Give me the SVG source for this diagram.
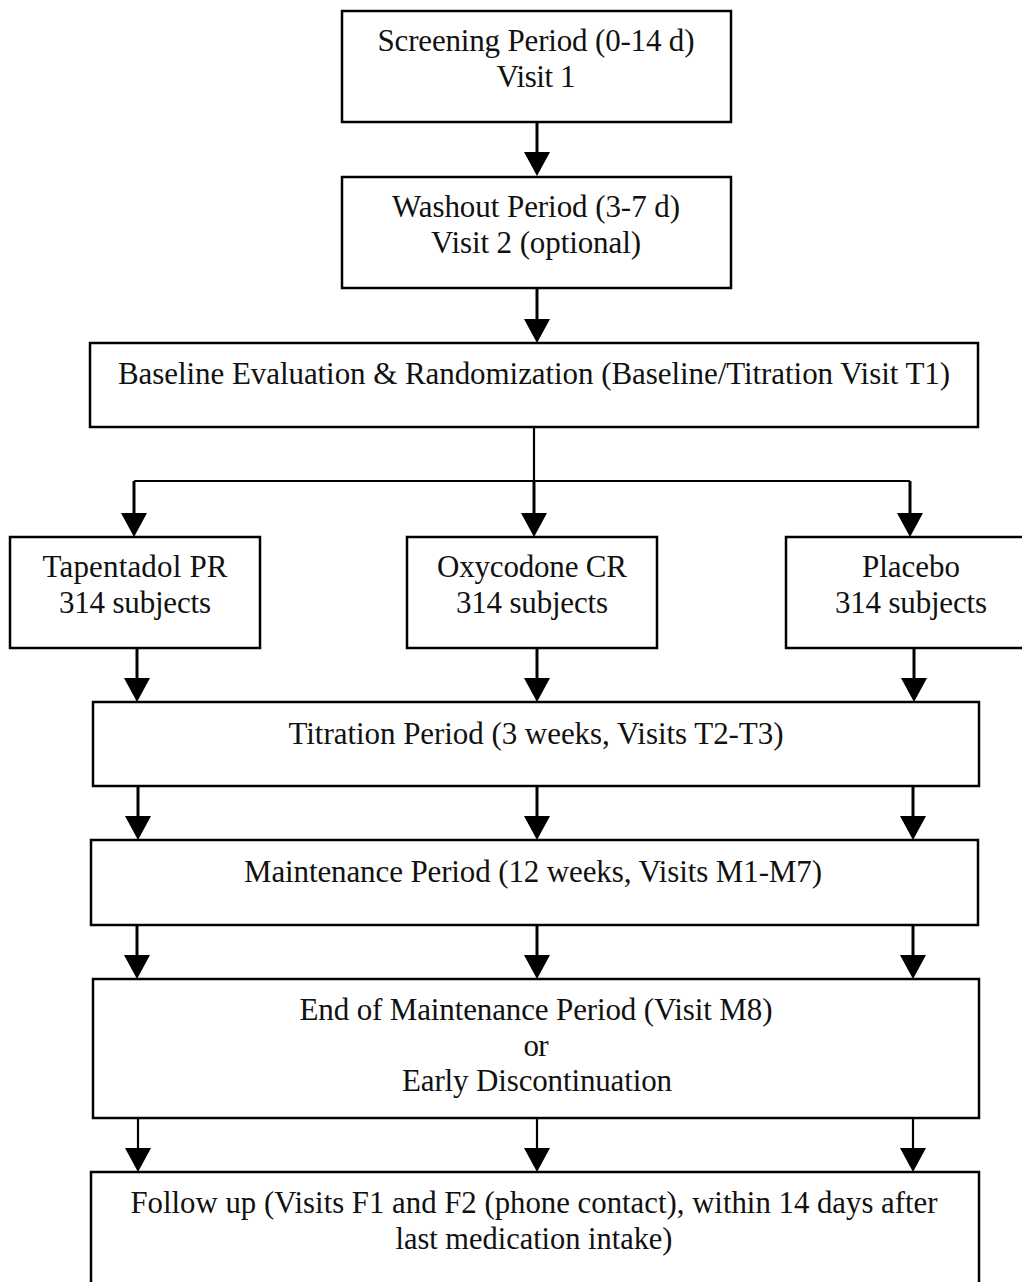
<svg xmlns="http://www.w3.org/2000/svg" width="1022" height="1282" viewBox="0 0 1022 1282">
<style>
.box{fill:#fff;stroke:#000;stroke-width:2.5}
.t{font-family:"Liberation Serif","Times New Roman",serif;font-size:31px;fill:#111;text-anchor:middle}
.c{fill:none;stroke:#000;stroke-width:3}
.thin{stroke-width:2.2}
</style>
<defs>
<marker id="ah" markerUnits="userSpaceOnUse" viewBox="0 0 24 26" markerWidth="24" markerHeight="26" refX="14" refY="13" orient="auto">
<path d="M0,0 L24,13 L0,26 z" fill="#000"/>
</marker>
</defs>
<rect width="1022" height="1282" fill="#fff"/>
<g id="connectors">
<path class="c" d="M537,122 V166" marker-end="url(#ah)"/>
<path class="c" d="M537,288 V333" marker-end="url(#ah)"/>
<path class="c thin" d="M534,427 V481"/>
<path class="c thin" d="M134,481 H910"/>
<path class="c" d="M134,481 V527" marker-end="url(#ah)"/>
<path class="c" d="M534,481 V527" marker-end="url(#ah)"/>
<path class="c" d="M910,481 V527" marker-end="url(#ah)"/>
<path class="c" d="M137,648 V692" marker-end="url(#ah)"/>
<path class="c" d="M537,648 V692" marker-end="url(#ah)"/>
<path class="c" d="M914,648 V692" marker-end="url(#ah)"/>
<path class="c" d="M138,786 V830" marker-end="url(#ah)"/>
<path class="c" d="M537,786 V830" marker-end="url(#ah)"/>
<path class="c" d="M913,786 V830" marker-end="url(#ah)"/>
<path class="c" d="M137,925 V969" marker-end="url(#ah)"/>
<path class="c" d="M537,925 V969" marker-end="url(#ah)"/>
<path class="c" d="M913,925 V969" marker-end="url(#ah)"/>
<path class="c thin" d="M138,1118 V1162" marker-end="url(#ah)"/>
<path class="c thin" d="M537,1118 V1162" marker-end="url(#ah)"/>
<path class="c thin" d="M913,1118 V1162" marker-end="url(#ah)"/>
</g>
<g id="screening">
<rect class="box" x="342" y="11" width="389" height="111"/>
<text class="t" x="536" y="51" textLength="317">Screening Period (0-14 d)</text>
<text class="t" x="536" y="87" textLength="79">Visit 1</text>
</g>
<g id="washout">
<rect class="box" x="342" y="177" width="389" height="111"/>
<text class="t" x="536" y="217" textLength="288">Washout Period (3-7 d)</text>
<text class="t" x="536" y="253" textLength="210">Visit 2 (optional)</text>
</g>
<g id="baseline">
<rect class="box" x="90" y="343" width="888" height="84"/>
<text class="t" x="534" y="384" textLength="832">Baseline Evaluation &amp; Randomization (Baseline/Titration Visit T1)</text>
</g>
<g id="tapentadol">
<rect class="box" x="10" y="537" width="250" height="111"/>
<text class="t" x="135" y="577" textLength="185">Tapentadol PR</text>
<text class="t" x="135" y="613" textLength="152">314 subjects</text>
</g>
<g id="oxycodone">
<rect class="box" x="407" y="537" width="250" height="111"/>
<text class="t" x="532" y="577" textLength="190">Oxycodone CR</text>
<text class="t" x="532" y="613" textLength="152">314 subjects</text>
</g>
<g id="placebo">
<rect class="box" x="786" y="537" width="240" height="111"/>
<text class="t" x="911" y="577" textLength="98">Placebo</text>
<text class="t" x="911" y="613" textLength="152">314 subjects</text>
</g>
<g id="titration">
<rect class="box" x="93" y="702" width="886" height="84"/>
<text class="t" x="536" y="744" textLength="495">Titration Period (3 weeks, Visits T2-T3)</text>
</g>
<g id="maintenance">
<rect class="box" x="91" y="840" width="887" height="85"/>
<text class="t" x="533" y="882" textLength="578">Maintenance Period (12 weeks, Visits M1-M7)</text>
</g>
<g id="end">
<rect class="box" x="93" y="979" width="886" height="139"/>
<text class="t" x="536" y="1020" textLength="473">End of Maintenance Period (Visit M8)</text>
<text class="t" x="536" y="1056" textLength="25">or</text>
<text class="t" x="537" y="1091" textLength="270">Early Discontinuation</text>
</g>
<g id="followup">
<rect class="box" x="91" y="1172" width="888" height="120"/>
<text class="t" x="534" y="1213" textLength="807" lengthAdjust="spacingAndGlyphs">Follow up (Visits F1 and F2 (phone contact), within 14 days after</text>
<text class="t" x="534" y="1249" textLength="277" lengthAdjust="spacingAndGlyphs">last medication intake)</text>
</g>
</svg>
